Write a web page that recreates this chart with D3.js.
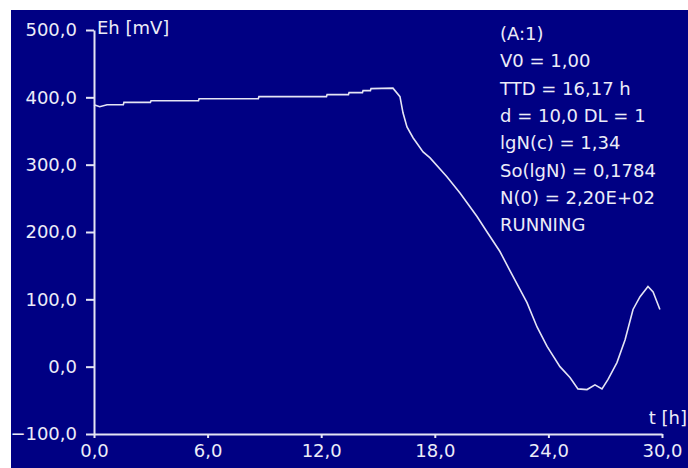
<!DOCTYPE html>
<html>
<head>
<meta charset="utf-8">
<script src="https://cdn.jsdelivr.net/npm/d3@7"></script>
<style>
  body { margin: 0; background: #fff; }
  svg text { font-family: "DejaVu Sans", sans-serif; font-size: 18px; fill: #ececf8; }
</style>
</head>
<body>
<div id="chart"></div>
<script>
// Eh curve: time [h] and Eh [mV]
const times = [0, 0.3, 0.69, 1.55, 1.58, 2.98, 3.01, 5.52, 5.55, 8.68, 8.71, 12.28, 12.31, 13.44,
  13.47, 14.18, 14.21, 14.6, 14.63, 15.79, 16.16, 16.32, 16.53, 16.85, 17.38, 17.75, 18.64, 19.33,
  20.23, 20.76, 21.44, 22.13, 22.87, 23.4, 23.93, 24.61, 25.14, 25.56, 26.04, 26.46, 26.83, 27.15,
  27.62, 28.05, 28.47, 28.84, 29.26, 29.53, 29.89];
const ehValues = [389, 386, 389, 389, 392.5, 392.5, 395, 395, 398, 398, 401, 401, 404, 404,
  407, 407, 410, 410, 413, 413.6, 401, 377, 356, 340, 319, 310, 282, 258,
  223, 200, 171, 134, 95, 59, 30, 0, -16, -33, -34, -27, -33, -19,
  6, 40, 85, 104, 119, 111, 85];

const xTicks = [0, 6, 12, 18, 24, 30];
const yTicks = [-100, 0, 100, 200, 300, 400, 500];

const infoLines = ["(A:1)", "V0 = 1,00", "TTD = 16,17 h", "d = 10,0  DL = 1", "lgN(c) = 1,34",
  "So(lgN) = 0,1784", "N(0) = 2,20E+02", "RUNNING"];

const W = 688, H = 468;
const margin = { top: 30, right: 26, bottom: 34, left: 94 };
const width = W - margin.left - margin.right;
const height = H - margin.top - margin.bottom;
const fg = "#e4e4f4";

const svg = d3.select("#chart").append("svg")
  .attr("width", W)
  .attr("height", H);

// blue panel
svg.append("rect")
  .attr("x", 11).attr("y", 10)
  .attr("width", W - 11).attr("height", H - 10)
  .attr("fill", "#000083");

const g = svg.append("g")
  .attr("transform", `translate(${margin.left}, ${margin.top})`);

const x = d3.scaleLinear().domain([0, 30]).range([0, width]);
const y = d3.scaleLinear().domain([-100, 500]).range([height, 0]);

const fmt = v => d3.format(".1f")(v).replace(".", ",");

const xAxis = g.append("g")
  .attr("transform", `translate(0, ${height})`)
  .call(d3.axisBottom(x).tickValues(xTicks).tickFormat(fmt).tickSize(4).tickSizeOuter(0).tickPadding(6));

const yAxis = g.append("g")
  .call(d3.axisLeft(y).tickValues(yTicks).tickFormat(fmt).tickSize(8).tickSizeOuter(0).tickPadding(9));

[xAxis, yAxis].forEach(a => {
  a.select(".domain").attr("stroke", fg).attr("stroke-width", 2);
  a.selectAll(".tick line").attr("stroke", fg).attr("stroke-width", 2);
  a.selectAll(".tick text").attr("fill", fg).style("font-size", "18px")
    .style("font-family", "'DejaVu Sans', sans-serif");
});

// axis titles
g.append("text")
  .attr("x", 3).attr("y", 4)
  .text("Eh [mV]");

g.append("text")
  .attr("x", W - margin.left - 1).attr("y", height - 10)
  .attr("text-anchor", "end")
  .text("t [h]");

// curve
const pts = times.map((t, i) => [t, ehValues[i]]);
g.append("path")
  .datum(pts)
  .attr("fill", "none")
  .attr("stroke", fg)
  .attr("stroke-width", 1.6)
  .attr("d", d3.line().x(d => x(d[0])).y(d => y(d[1])));

// info block
const info = svg.append("g").attr("transform", "translate(500, 0)");
info.selectAll("text")
  .data(infoLines)
  .join("text")
  .attr("x", 0)
  .attr("y", (d, i) => 40 + i * 27.3)
  .text(d => d);
</script>
</body>
</html>
